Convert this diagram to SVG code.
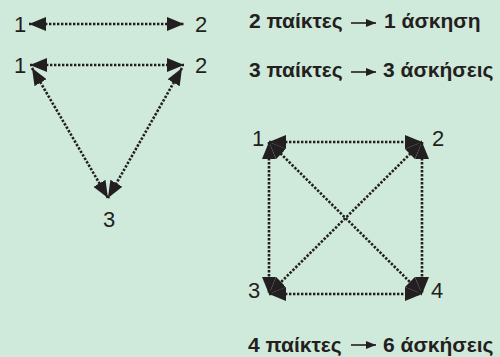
<svg xmlns="http://www.w3.org/2000/svg" width="500" height="357" viewBox="0 0 500 357">
<style>
.lbl{font-family:"Liberation Sans",Arial,sans-serif;font-size:22px;fill:#231f20}
.txt{font-family:"Liberation Sans",Arial,sans-serif;font-size:21px;font-weight:bold;fill:#231f20}
.edge{stroke:#231f20;stroke-width:2.6;stroke-dasharray:2.4 1.6;fill:none;marker-start:url(#ah);marker-end:url(#ah)}
.tarr{stroke:#231f20;stroke-width:1.6;marker-end:url(#sah)}
</style>
<defs>
<marker id="ah" viewBox="0 0 17 14" refX="17" refY="7" markerWidth="17" markerHeight="14" markerUnits="userSpaceOnUse" orient="auto-start-reverse">
<path d="M0,0 L17,7 L0,14 z" fill="#231f20"/>
</marker>
<marker id="sah" viewBox="0 0 10 8" refX="10" refY="4" markerWidth="10" markerHeight="8" markerUnits="userSpaceOnUse" orient="auto">
<path d="M0,0 L10,4 L0,8 z" fill="#231f20"/>
</marker>
</defs>
<rect width="500" height="357" fill="#cfe9da"/>
<g id="connectors">
<line class="edge" x1="29" y1="24" x2="184" y2="24"/>
<line class="edge" x1="30" y1="65" x2="184" y2="65"/>
<line class="edge" x1="32" y1="68" x2="108" y2="198"/>
<line class="edge" x1="182" y1="68" x2="108" y2="198"/>
<line class="edge" x1="269" y1="142" x2="422" y2="142"/>
<line class="edge" x1="269" y1="294" x2="422" y2="294"/>
<line class="edge" x1="269" y1="142" x2="269" y2="294"/>
<line class="edge" x1="422" y1="142" x2="422" y2="294"/>
<line class="edge" x1="269" y1="142" x2="422" y2="294"/>
<line class="edge" x1="422" y1="142" x2="269" y2="294"/>
</g>
<g id="pair-1"><text class="lbl" x="14" y="32">1</text></g>
<g id="pair-2"><text class="lbl" x="195" y="32">2</text></g>
<g id="tri-1"><text class="lbl" x="14" y="73">1</text></g>
<g id="tri-2"><text class="lbl" x="195" y="73">2</text></g>
<g id="tri-3"><text class="lbl" x="103" y="227">3</text></g>
<g id="sq-1"><text class="lbl" x="252" y="146">1</text></g>
<g id="sq-2"><text class="lbl" x="432" y="146">2</text></g>
<g id="sq-3"><text class="lbl" x="248" y="298">3</text></g>
<g id="sq-4"><text class="lbl" x="431" y="298">4</text></g>
<g id="caption-2">
<text class="txt" x="249" y="28">2 παίκτες</text>
<line class="tarr" x1="351" y1="23" x2="376" y2="23"/>
<text class="txt" x="384" y="28">1 άσκηση</text>
</g>
<g id="caption-3">
<text class="txt" x="249" y="77">3 παίκτες</text>
<line class="tarr" x1="351" y1="72" x2="376" y2="72"/>
<text class="txt" x="383" y="77">3 άσκήσεις</text>
</g>
<g id="caption-4">
<text class="txt" x="248" y="352">4 παίκτες</text>
<line class="tarr" x1="351" y1="345" x2="376" y2="345"/>
<text class="txt" x="383" y="352">6 άσκήσεις</text>
</g>
</svg>
